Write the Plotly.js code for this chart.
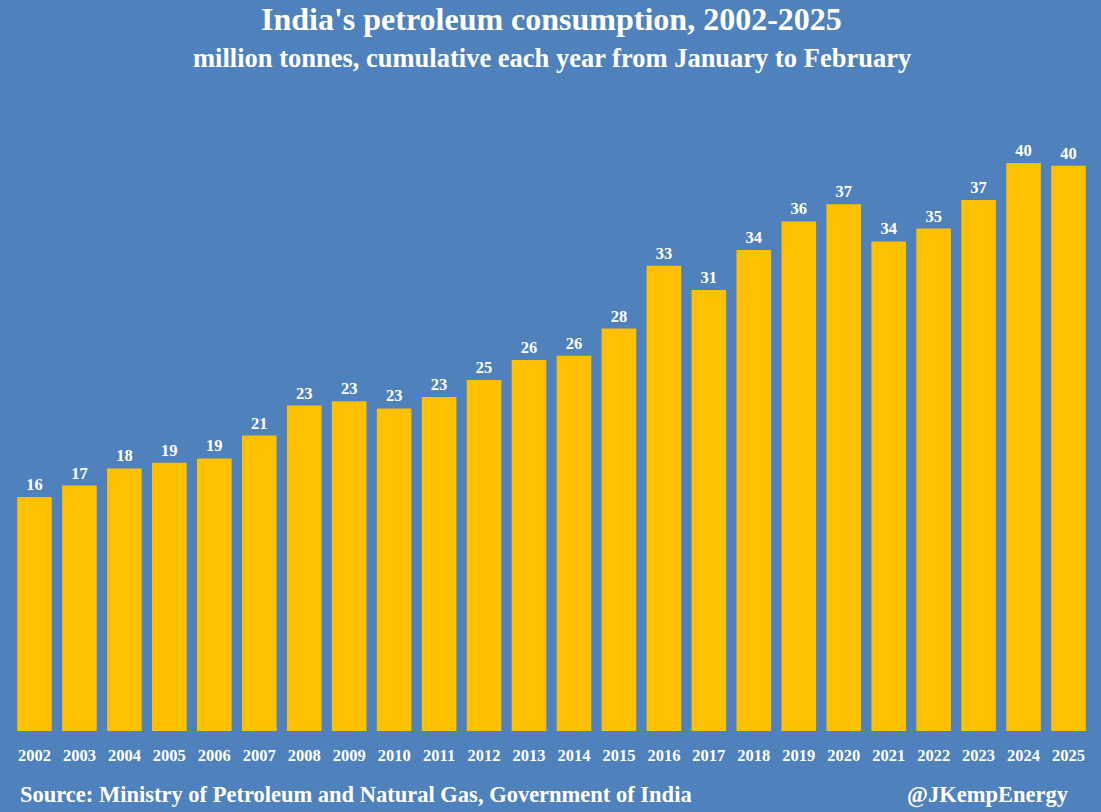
<!DOCTYPE html>
<html>
<head>
<meta charset="utf-8">
<script src="https://cdn.plot.ly/plotly-3.0.1.min.js"></script>
<style>
  body { margin: 0; background: #4f81bd; }
  #chart { width: 1101px; height: 812px; }
</style>
</head>
<body>
<div id="chart"></div>
<script>
  var years = ['2002', '2003', '2004', '2005', '2006', '2007', '2008', '2009', '2010', '2011', '2012', '2013',
               '2014', '2015', '2016', '2017', '2018', '2019', '2020', '2021', '2022', '2023', '2024', '2025'];
  // million tonnes, Jan-Feb cumulative
  var consumption = [16.4, 17.2, 18.4, 18.8, 19.1, 20.7, 22.8, 23.1, 22.6, 23.4, 24.6, 26.0,
                     26.3, 28.2, 32.6, 30.9, 33.7, 35.7, 36.9, 34.3, 35.2, 37.2, 39.8, 39.6];

  var serif = 'Liberation Serif, DejaVu Serif, serif';

  var trace0 = {
    x: years,
    y: consumption,
    type: 'bar',
    marker: { color: '#ffc000' },
    texttemplate: '<b>%{y:.0f}</b>',
    textposition: 'outside',
    cliponaxis: false,
    textfont: { family: serif, size: 16.5, color: '#ffffff' },
    hoverinfo: 'none'
  };

  var layout = {
    width: 1101,
    height: 812,
    paper_bgcolor: '#4f81bd',
    plot_bgcolor: '#4f81bd',
    margin: { l: 12, r: 10, t: 103, b: 81 },
    bargap: 0.23,
    showlegend: false,
    xaxis: {
      type: 'category',
      showgrid: false,
      zeroline: false,
      showline: false,
      ticks: 'outside',
      ticklen: 9,
      tickcolor: 'rgba(0,0,0,0)',
      tickfont: { family: serif, size: 16.5, color: '#ffffff', weight: 'bold' }
    },
    yaxis: {
      range: [0, 44],
      visible: false,
      showgrid: false,
      zeroline: false
    },
    annotations: [
      {
        text: "<b>India's petroleum consumption, 2002-2025</b>",
        xref: 'paper', yref: 'paper', x: 0.5, y: 1, xanchor: 'center', yanchor: 'bottom',
        yshift: 64, showarrow: false,
        font: { family: serif, size: 32, color: '#ffffff' }
      },
      {
        text: '<b>million tonnes, cumulative each year from January to February</b>',
        xref: 'paper', yref: 'paper', x: 0.5, y: 1, xanchor: 'center', yanchor: 'bottom',
        yshift: 28, showarrow: false,
        font: { family: serif, size: 26.5, color: '#ffffff' }
      },
      {
        text: '<b>Source: Ministry of Petroleum and Natural Gas, Government of India</b>',
        xref: 'paper', yref: 'paper', x: 0, y: 0, xanchor: 'left', yanchor: 'top',
        xshift: 6, yshift: -49, showarrow: false,
        font: { family: serif, size: 22.5, color: '#ffffff' }
      },
      {
        text: '<b>@JKempEnergy</b>',
        xref: 'paper', yref: 'paper', x: 1, y: 0, xanchor: 'right', yanchor: 'top',
        xshift: -20, yshift: -49, showarrow: false,
        font: { family: serif, size: 22.5, color: '#ffffff' }
      }
    ]
  };

  Plotly.newPlot('chart', [trace0], layout, { displayModeBar: false, staticPlot: true });
</script>
</body>
</html>
